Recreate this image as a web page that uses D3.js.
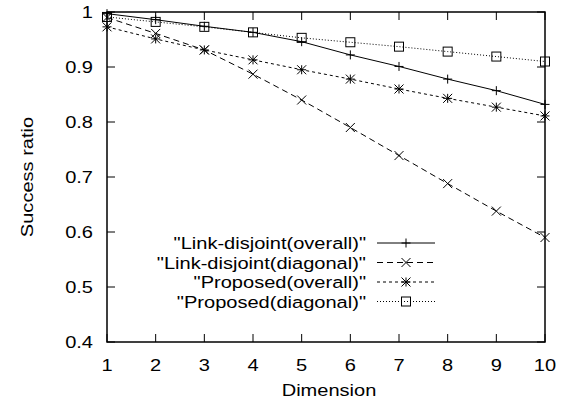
<!DOCTYPE html>
<html><head><meta charset="utf-8">
<script src="https://cdn.jsdelivr.net/npm/d3@7"></script>
<style>body{margin:0;background:#fff}svg{display:block}text{font-family:"Liberation Sans",Arial,sans-serif;fill:#000}</style>
</head><body><svg id="c" width="571" height="408"></svg>
<script>
const dimensions = [1,2,3,4,5,6,7,8,9,10];
const linkOverall = [0.997,0.986,0.974,0.963,0.946,0.922,0.901,0.878,0.857,0.832];
const linkDiagonal = [0.990,0.961,0.931,0.887,0.840,0.790,0.739,0.688,0.638,0.590];
const propOverall = [0.973,0.951,0.931,0.913,0.895,0.878,0.860,0.843,0.827,0.811];
const propDiagonal = [0.991,0.982,0.973,0.963,0.953,0.945,0.937,0.928,0.919,0.910];
const seriesNames = ['"Link-disjoint(overall)"','"Link-disjoint(diagonal)"','"Proposed(overall)"','"Proposed(diagonal)"'];
const yTicks = [0.4,0.5,0.6,0.7,0.8,0.9,1];
const yTickLabels = ["0.4","0.5","0.6","0.7","0.8","0.9","1"];

const series = [
  {name:seriesNames[0], values:linkOverall, dash:null, marker:"plus"},
  {name:seriesNames[1], values:linkDiagonal, dash:"6,4", marker:"cross"},
  {name:seriesNames[2], values:propOverall, dash:"3,3", marker:"star"},
  {name:seriesNames[3], values:propDiagonal, dash:"1,2", marker:"square"}
];

const svg = d3.select("#c");
const L=107, R=545, T=12, B=342;
const FS=17, SX=1.18;
const x = d3.scaleLinear().domain([1,10]).range([L,R]);
const y = d3.scaleLinear().domain([0.4,1]).range([B,T]);

function label(tx, ty, str, anchor, rot){
  svg.append("text")
    .attr("transform", `translate(${tx},${ty})` + (rot ? ` rotate(${rot})` : "") + ` scale(${SX},1)`)
    .attr("text-anchor", anchor).attr("font-size", FS).text(str);
}

function marker(g, type, cx, cy){
  const s=4.5;
  if(type==="plus"){
    g.append("path").attr("d",`M${cx-s},${cy}H${cx+s}M${cx},${cy-s}V${cy+s}`);
  } else if(type==="cross"){
    g.append("path").attr("d",`M${cx-s},${cy-s}L${cx+s},${cy+s}M${cx-s},${cy+s}L${cx+s},${cy-s}`);
  } else if(type==="star"){
    g.append("path").attr("d",`M${cx-s},${cy}H${cx+s}M${cx},${cy-s}V${cy+s}M${cx-s},${cy-s}L${cx+s},${cy+s}M${cx-s},${cy+s}L${cx+s},${cy-s}`);
  } else {
    g.append("rect").attr("x",cx-s).attr("y",cy-s).attr("width",2*s).attr("height",2*s).attr("fill","none");
  }
}

// ticks (mirrored, inward)
const tk = svg.append("g").attr("stroke","#000").attr("stroke-width",1);
dimensions.forEach(d=>{
  tk.append("line").attr("x1",x(d)).attr("x2",x(d)).attr("y1",B).attr("y2",B-8);
  tk.append("line").attr("x1",x(d)).attr("x2",x(d)).attr("y1",T).attr("y2",T+8);
  label(x(d), 371, d, "middle");
});
yTicks.forEach((v,i)=>{
  tk.append("line").attr("x1",L).attr("x2",L+8).attr("y1",y(v)).attr("y2",y(v));
  tk.append("line").attr("x1",R).attr("x2",R-8).attr("y1",y(v)).attr("y2",y(v));
  label(93, y(v)+6, yTickLabels[i], "end");
});

label(329, 396, "Dimension", "middle");
label(33, 177, "Success ratio", "middle", -90);

// series
const line = d3.line().x((d,i)=>x(dimensions[i])).y(d=>y(d));
series.forEach((s,k)=>{
  const g = svg.append("g").attr("stroke","#000").attr("stroke-width",1).attr("fill","none");
  g.append("path").attr("d",line(s.values)).attr("stroke-dasharray",s.dash);
  s.values.forEach((v,i)=>marker(g,s.marker,x(dimensions[i]),y(v)));
  // legend
  const ly = 243 + k*19.5;
  label(366, ly+6, s.name, "end");
  g.append("line").attr("x1",377).attr("x2",435).attr("y1",ly).attr("y2",ly).attr("stroke-dasharray",s.dash);
  marker(g,s.marker,406,ly);
});

svg.append("rect").attr("x",L).attr("y",T).attr("width",R-L).attr("height",B-T).attr("fill","none").attr("stroke","#000").attr("stroke-width",1.5);
</script></body></html>
